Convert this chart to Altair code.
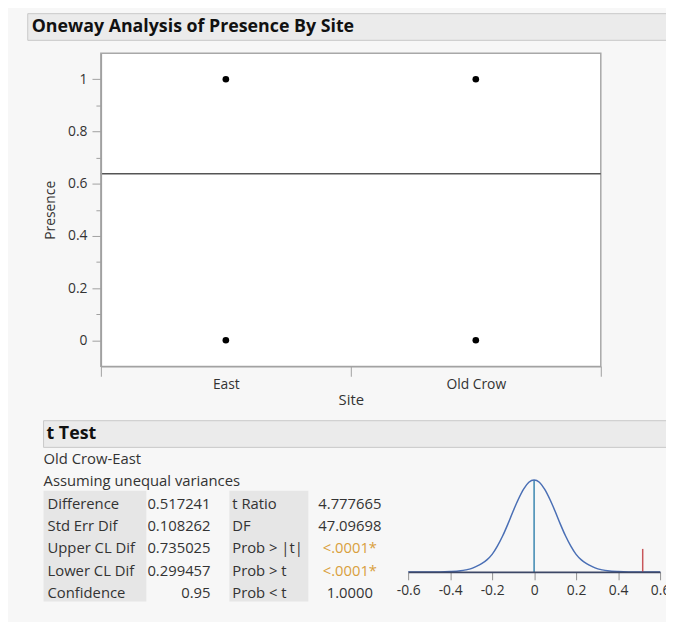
import altair as alt
import pandas as pd

FONT = "Open Sans"
TXT = "#333333"

# ---------------- data ----------------
TITLE = "Oneway Analysis of Presence By Site"
site_order = ["East", "Old Crow"]
sites = ["East", "East", "Old Crow", "Old Crow"]
presence = [1, 0, 1, 0]
grand_mean = 0.638
y_ticks = [0, 0.1, 0.2, 0.3, 0.4, 0.5, 0.6, 0.7, 0.8, 0.9, 1.0]
x_ticks = [0, 0.5, 1, 1.5, 2]

TTEST = "t Test"
notes = ["Old Crow-East", "Assuming unequal variances"]
stat_labels_1 = ["Difference", "Std Err Dif", "Upper CL Dif", "Lower CL Dif", "Confidence"]
stat_values_1 = ["0.517241", "0.108262", "0.735025", "0.299457", "0.95"]
stat_labels_2 = ["t Ratio", "DF", "Prob > |t|", "Prob > t", "Prob < t"]
stat_values_2 = ["4.777665", "47.09698", "<.0001*", "<.0001*", "1.0000"]
stat_signif = [False, False, True, True, False]

dist_x = [-0.6, -0.45, -0.4, -0.35, -0.325, -0.3, -0.275, -0.25, -0.225, -0.2,
          -0.175, -0.15, -0.125, -0.1, -0.075, -0.05, -0.025, 0.0,
          0.025, 0.05, 0.075, 0.1, 0.125, 0.15, 0.175, 0.2, 0.225, 0.25,
          0.275, 0.3, 0.325, 0.35, 0.4, 0.45, 0.6]
dist_h = [0.0, 0.0, 0.003, 0.012, 0.022, 0.035, 0.06, 0.09, 0.13, 0.19,
          0.28, 0.39, 0.52, 0.66, 0.79, 0.90, 0.975, 1.0,
          0.975, 0.90, 0.79, 0.66, 0.52, 0.39, 0.28, 0.19, 0.13, 0.09,
          0.06, 0.035, 0.022, 0.012, 0.003, 0.0, 0.0]
dist_ticks = [-0.6, -0.4, -0.2, 0, 0.2, 0.4, 0.6]
observed_diff = 0.517241
observed_h = 0.25

W, H = 666, 614

def sx():
    return alt.Scale(domain=[0, 2], range=[94, 600], nice=False, zero=False)

def sy():
    return alt.Scale(domain=[-0.1, 1.1], range=[359, 42], nice=False, zero=False)

def srow():
    return alt.Scale(domain=[-2, 4], range=[452.6, 588.7], nice=False, zero=False)

def sdx():
    return alt.Scale(domain=[-0.6, 0.6], range=[405, 660], nice=False, zero=False)

def sdy():
    return alt.Scale(domain=[0, 1], range=[567, 474], nice=False, zero=False)

# ---------------- header bars ----------------
def header(text, x0, y0, y1, tx, ty):
    d = pd.DataFrame({"t": [text], "i": [0]})
    bar = alt.Chart(d).mark_rect(
        fill="#ebebeb", stroke="#c8c8c8", strokeWidth=1
    ).encode(x=alt.value(x0), x2=alt.value(W + 2), y=alt.value(y0), y2=alt.value(y1))
    lab = alt.Chart(d).mark_text(
        align="left", baseline="middle", font=FONT, fontSize=18, fontWeight="bold", color="#111111"
    ).encode(x=alt.value(tx), y=alt.value(ty), text="t:N")
    return bar, lab

title_bar, title_text = header(TITLE, 20, 2, 29, 24, 15.5)
tt_bar, tt_text = header(TTEST, 36, 414, 441, 39, 427.5)

# ---------------- scatter panel ----------------
lab_expr = " : ".join(
    f"datum.value == {i + 0.5} ? '{s}'" for i, s in enumerate(site_order)
) + " : ''"

frame = alt.Chart(pd.DataFrame({"x0": [0], "x1": [2], "y0": [-0.1], "y1": [1.1]})).mark_rect(
    fill="white", stroke="#a8a8a8", strokeWidth=1.5
).encode(
    x=alt.X("x0:Q", scale=sx(), axis=None), x2="x1:Q",
    y=alt.Y("y0:Q", scale=sy(), axis=None), y2="y1:Q",
)

mean_line = alt.Chart(pd.DataFrame({"x0": [0], "x1": [2], "m": [grand_mean]})).mark_rule(
    color="#555555", strokeWidth=1.5
).encode(x=alt.X("x0:Q", scale=sx(), axis=None), x2="x1:Q",
         y=alt.Y("m:Q", scale=sy(), axis=None))

pts = alt.Chart(pd.DataFrame({"site": sites, "presence": presence})).transform_calculate(
    pos="indexof(" + str(site_order) + ", datum.site) + 0.5"
).mark_circle(size=45, color="black", opacity=1).encode(
    x=alt.X("pos:Q", scale=sx(), axis=alt.Axis(
        values=x_ticks, title="Site", orient="bottom", offset=-(H - 359), grid=False, zindex=1,
        labelExpr=lab_expr, labelOverlap=False, labelFlush=False,
        tickOpacity={"condition": {"test": "datum.value == 0.5 || datum.value == 1.5", "value": 0}, "value": 1},
        tickSize=10, tickColor="#a0a0a0", domainColor="#a0a0a0", domainWidth=1.5,
        labelFont=FONT, labelFontSize=14, labelColor=TXT, labelPadding=1,
        titleFont=FONT, titleFontSize=15, titleFontWeight="normal", titleColor=TXT, titlePadding=2,
    )),
    y=alt.Y("presence:Q", scale=sy(), axis=alt.Axis(
        values=y_ticks, title="Presence", orient="left", offset=-94, grid=False, zindex=1,
        labelExpr="round(datum.value*10) % 2 == 0 ? format(datum.value, '~g') : ''",
        labelOverlap=False, labelFlush=False,
        tickSize={"condition": {"test": "round(datum.value*10) % 2 == 0", "value": 9}, "value": 5},
        tickColor="#a0a0a0", domainColor="#a0a0a0", domainWidth=1.5,
        labelFont=FONT, labelFontSize=14, labelColor=TXT, labelPadding=5,
        titleFont=FONT, titleFontSize=14, titleFontWeight="normal", titleColor=TXT, titlePadding=10,
    )),
)

# ---------------- table ----------------
rows = list(range(len(stat_labels_1)))
tbl = pd.DataFrame({
    "row": rows, "l1": stat_labels_1, "v1": stat_values_1,
    "l2": stat_labels_2, "v2": stat_values_2, "sig": stat_signif,
})
note_df = pd.DataFrame({"row": [-2, -1], "txt": notes})

bgd = pd.DataFrame({"c": [1]})
bg1 = alt.Chart(bgd).mark_rect(fill="#e6e6e6").encode(
    x=alt.value(36), x2=alt.value(140), y=alt.value(485), y2=alt.value(597))
bg2 = alt.Chart(bgd).mark_rect(fill="#e6e6e6").encode(
    x=alt.value(224), x2=alt.value(304), y=alt.value(485), y2=alt.value(597))

def col(field, xpos, align, color=None):
    kw = dict(align=align, baseline="middle", font=FONT, fontSize=15)
    enc = dict(x=alt.value(xpos), y=alt.Y("row:Q", scale=srow(), axis=None), text=f"{field}:N")
    if color is None:
        enc["color"] = alt.condition("datum.sig", alt.value("#d9a03c"), alt.value(TXT))
    else:
        kw["color"] = color
    return alt.Chart(tbl).mark_text(**kw).encode(**enc)

notes_layer = alt.Chart(note_df).mark_text(
    align="left", baseline="middle", font=FONT, fontSize=15, color=TXT
).encode(x=alt.value(36), y=alt.Y("row:Q", scale=srow(), axis=None), text="txt:N")

# ---------------- distribution ----------------
curve = alt.Chart(pd.DataFrame({"d": dist_x, "h": dist_h})).mark_line(
    color="#4a6fb5", strokeWidth=1.5, interpolate="monotone"
).encode(
    x=alt.X("d:Q", scale=sdx(), axis=alt.Axis(
        values=dist_ticks, title=None, orient="bottom", offset=-(H - 567), grid=False, zindex=1,
        domainColor="#3d4766", domainWidth=2, tickColor="#909090", tickSize=8,
        labelFont=FONT, labelFontSize=14, labelColor=TXT, labelPadding=4,
        labelFlush=False, labelOverlap=False, labelBound=False,
        labelExpr="replace(format(datum.value, '~g'), '\u2212', '-')",
    )),
    y=alt.Y("h:Q", scale=sdy(), axis=None),
)
zero_line = alt.Chart(pd.DataFrame({"d": [0], "h0": [0], "h1": [1]})).mark_rule(
    color="#3b86b0", strokeWidth=1.5
).encode(x=alt.X("d:Q", scale=sdx(), axis=None), y=alt.Y("h0:Q", scale=sdy(), axis=None), y2="h1:Q")
obs_line = alt.Chart(pd.DataFrame({"d": [observed_diff], "h0": [0], "h1": [observed_h]})).mark_rule(
    color="#c8565a", strokeWidth=1.5
).encode(x=alt.X("d:Q", scale=sdx(), axis=None), y=alt.Y("h0:Q", scale=sdy(), axis=None), y2="h1:Q")

chart = alt.layer(
    title_bar, title_text, frame, mean_line, pts, tt_bar, tt_text, bg1, bg2,
    notes_layer,
    col("l1", 40, "left", TXT),
    col("v1", 205, "right", TXT),
    col("l2", 227, "left", TXT),
    col("v2", 346, "center"),
    zero_line, curve, obs_line,
).resolve_scale(x="independent", y="independent").properties(
    width=W, height=H, padding=0, autosize=alt.AutoSizeParams(type="none"),
    background="#f7f7f7",
).configure_view(stroke=None)

chart.save("out.html", embed_options={"renderer": "svg", "actions": False})
